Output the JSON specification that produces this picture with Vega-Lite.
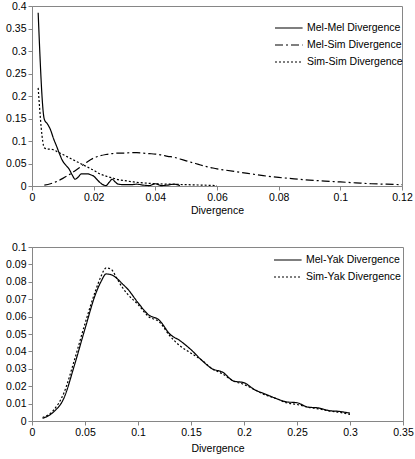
{
  "$schema": "https://vega.github.io/schema/vega-lite/v6.json",
  "padding": {"left": 5, "top": 0, "right": 12, "bottom": 0},
  "background": "white",
  "spacing": 24,
  "config": {
    "font": "Liberation Sans",
    "view": {"stroke": "#868686", "strokeWidth": 1},
    "axis": {
      "grid": false,
      "domainColor": "#868686",
      "tickColor": "#868686",
      "tickSize": 4,
      "labelPadding": 2,
      "labelFontSize": 10.5,
      "labelColor": "#000000",
      "titleFontSize": 10.5,
      "titleFontWeight": "normal",
      "titleColor": "#000000"
    },
    "axisY": {"minExtent": 26, "maxExtent": 26},
    "axisX": {"titlePadding": 3, "labelFlush": false},
    "legend": {
      "symbolType": "M-1,0H3.6",
      "symbolSize": 144,
      "symbolStrokeColor": "#000000",
      "symbolStrokeWidth": 1.2,
      "labelFontSize": 10.5,
      "labelColor": "#000000",
      "rowPadding": 4,
      "labelOffset": 19
    }
  },
  "datasets": {
    "top": [
      {"series": "Mel-Mel Divergence", "x": 0.002, "y": 0.385},
      {"series": "Mel-Mel Divergence", "x": 0.004, "y": 0.148},
      {"series": "Mel-Mel Divergence", "x": 0.005, "y": 0.138},
      {"series": "Mel-Mel Divergence", "x": 0.006, "y": 0.125},
      {"series": "Mel-Mel Divergence", "x": 0.007, "y": 0.105},
      {"series": "Mel-Mel Divergence", "x": 0.008, "y": 0.088},
      {"series": "Mel-Mel Divergence", "x": 0.009, "y": 0.07},
      {"series": "Mel-Mel Divergence", "x": 0.010, "y": 0.055},
      {"series": "Mel-Mel Divergence", "x": 0.011, "y": 0.046},
      {"series": "Mel-Mel Divergence", "x": 0.012, "y": 0.038},
      {"series": "Mel-Mel Divergence", "x": 0.013, "y": 0.025},
      {"series": "Mel-Mel Divergence", "x": 0.014, "y": 0.015},
      {"series": "Mel-Mel Divergence", "x": 0.015, "y": 0.02},
      {"series": "Mel-Mel Divergence", "x": 0.016, "y": 0.027},
      {"series": "Mel-Mel Divergence", "x": 0.018, "y": 0.027},
      {"series": "Mel-Mel Divergence", "x": 0.019, "y": 0.025},
      {"series": "Mel-Mel Divergence", "x": 0.020, "y": 0.022},
      {"series": "Mel-Mel Divergence", "x": 0.021, "y": 0.015},
      {"series": "Mel-Mel Divergence", "x": 0.022, "y": 0.008},
      {"series": "Mel-Mel Divergence", "x": 0.023, "y": 0.003},
      {"series": "Mel-Mel Divergence", "x": 0.024, "y": 0.001},
      {"series": "Mel-Mel Divergence", "x": 0.025, "y": 0.008},
      {"series": "Mel-Mel Divergence", "x": 0.026, "y": 0.015},
      {"series": "Mel-Mel Divergence", "x": 0.027, "y": 0.009},
      {"series": "Mel-Mel Divergence", "x": 0.028, "y": 0.004},
      {"series": "Mel-Mel Divergence", "x": 0.030, "y": 0.003},
      {"series": "Mel-Mel Divergence", "x": 0.032, "y": 0.003},
      {"series": "Mel-Mel Divergence", "x": 0.034, "y": 0.004},
      {"series": "Mel-Mel Divergence", "x": 0.036, "y": 0.002},
      {"series": "Mel-Mel Divergence", "x": 0.038, "y": 0.001},
      {"series": "Mel-Mel Divergence", "x": 0.040, "y": 0.005},
      {"series": "Mel-Mel Divergence", "x": 0.042, "y": 0.001},
      {"series": "Mel-Mel Divergence", "x": 0.044, "y": 0.002},
      {"series": "Mel-Mel Divergence", "x": 0.046, "y": 0.004},
      {"series": "Mel-Mel Divergence", "x": 0.048, "y": 0.001},
      {"series": "Mel-Sim Divergence", "x": 0.004, "y": 0.002},
      {"series": "Mel-Sim Divergence", "x": 0.006, "y": 0.005},
      {"series": "Mel-Sim Divergence", "x": 0.008, "y": 0.010},
      {"series": "Mel-Sim Divergence", "x": 0.010, "y": 0.017},
      {"series": "Mel-Sim Divergence", "x": 0.012, "y": 0.025},
      {"series": "Mel-Sim Divergence", "x": 0.014, "y": 0.034},
      {"series": "Mel-Sim Divergence", "x": 0.016, "y": 0.044},
      {"series": "Mel-Sim Divergence", "x": 0.018, "y": 0.054},
      {"series": "Mel-Sim Divergence", "x": 0.020, "y": 0.062},
      {"series": "Mel-Sim Divergence", "x": 0.022, "y": 0.067},
      {"series": "Mel-Sim Divergence", "x": 0.024, "y": 0.070},
      {"series": "Mel-Sim Divergence", "x": 0.026, "y": 0.072},
      {"series": "Mel-Sim Divergence", "x": 0.028, "y": 0.073},
      {"series": "Mel-Sim Divergence", "x": 0.030, "y": 0.073},
      {"series": "Mel-Sim Divergence", "x": 0.032, "y": 0.074},
      {"series": "Mel-Sim Divergence", "x": 0.034, "y": 0.074},
      {"series": "Mel-Sim Divergence", "x": 0.036, "y": 0.073},
      {"series": "Mel-Sim Divergence", "x": 0.038, "y": 0.072},
      {"series": "Mel-Sim Divergence", "x": 0.040, "y": 0.071},
      {"series": "Mel-Sim Divergence", "x": 0.042, "y": 0.069},
      {"series": "Mel-Sim Divergence", "x": 0.044, "y": 0.066},
      {"series": "Mel-Sim Divergence", "x": 0.046, "y": 0.064},
      {"series": "Mel-Sim Divergence", "x": 0.048, "y": 0.060},
      {"series": "Mel-Sim Divergence", "x": 0.050, "y": 0.056},
      {"series": "Mel-Sim Divergence", "x": 0.052, "y": 0.052},
      {"series": "Mel-Sim Divergence", "x": 0.054, "y": 0.048},
      {"series": "Mel-Sim Divergence", "x": 0.056, "y": 0.044},
      {"series": "Mel-Sim Divergence", "x": 0.058, "y": 0.041},
      {"series": "Mel-Sim Divergence", "x": 0.060, "y": 0.038},
      {"series": "Mel-Sim Divergence", "x": 0.062, "y": 0.036},
      {"series": "Mel-Sim Divergence", "x": 0.065, "y": 0.033},
      {"series": "Mel-Sim Divergence", "x": 0.070, "y": 0.028},
      {"series": "Mel-Sim Divergence", "x": 0.075, "y": 0.023},
      {"series": "Mel-Sim Divergence", "x": 0.080, "y": 0.019},
      {"series": "Mel-Sim Divergence", "x": 0.085, "y": 0.016},
      {"series": "Mel-Sim Divergence", "x": 0.090, "y": 0.013},
      {"series": "Mel-Sim Divergence", "x": 0.095, "y": 0.011},
      {"series": "Mel-Sim Divergence", "x": 0.100, "y": 0.009},
      {"series": "Mel-Sim Divergence", "x": 0.105, "y": 0.007},
      {"series": "Mel-Sim Divergence", "x": 0.110, "y": 0.005},
      {"series": "Mel-Sim Divergence", "x": 0.115, "y": 0.004},
      {"series": "Mel-Sim Divergence", "x": 0.120, "y": 0.003},
      {"series": "Sim-Sim Divergence", "x": 0.002, "y": 0.218},
      {"series": "Sim-Sim Divergence", "x": 0.004, "y": 0.085},
      {"series": "Sim-Sim Divergence", "x": 0.005, "y": 0.082},
      {"series": "Sim-Sim Divergence", "x": 0.006, "y": 0.082},
      {"series": "Sim-Sim Divergence", "x": 0.008, "y": 0.077},
      {"series": "Sim-Sim Divergence", "x": 0.010, "y": 0.070},
      {"series": "Sim-Sim Divergence", "x": 0.012, "y": 0.063},
      {"series": "Sim-Sim Divergence", "x": 0.014, "y": 0.056},
      {"series": "Sim-Sim Divergence", "x": 0.016, "y": 0.049},
      {"series": "Sim-Sim Divergence", "x": 0.018, "y": 0.042},
      {"series": "Sim-Sim Divergence", "x": 0.020, "y": 0.035},
      {"series": "Sim-Sim Divergence", "x": 0.022, "y": 0.027},
      {"series": "Sim-Sim Divergence", "x": 0.024, "y": 0.022},
      {"series": "Sim-Sim Divergence", "x": 0.026, "y": 0.018},
      {"series": "Sim-Sim Divergence", "x": 0.028, "y": 0.014},
      {"series": "Sim-Sim Divergence", "x": 0.030, "y": 0.012},
      {"series": "Sim-Sim Divergence", "x": 0.033, "y": 0.009},
      {"series": "Sim-Sim Divergence", "x": 0.036, "y": 0.007},
      {"series": "Sim-Sim Divergence", "x": 0.040, "y": 0.005},
      {"series": "Sim-Sim Divergence", "x": 0.045, "y": 0.004},
      {"series": "Sim-Sim Divergence", "x": 0.050, "y": 0.003},
      {"series": "Sim-Sim Divergence", "x": 0.055, "y": 0.002},
      {"series": "Sim-Sim Divergence", "x": 0.060, "y": 0.001}
    ],
    "bottom": [
      {"series": "Mel-Yak Divergence", "x": 0.01, "y": 0.0015},
      {"series": "Mel-Yak Divergence", "x": 0.02, "y": 0.005},
      {"series": "Mel-Yak Divergence", "x": 0.03, "y": 0.013},
      {"series": "Mel-Yak Divergence", "x": 0.04, "y": 0.032},
      {"series": "Mel-Yak Divergence", "x": 0.05, "y": 0.053},
      {"series": "Mel-Yak Divergence", "x": 0.06, "y": 0.073},
      {"series": "Mel-Yak Divergence", "x": 0.065, "y": 0.080},
      {"series": "Mel-Yak Divergence", "x": 0.07, "y": 0.0845},
      {"series": "Mel-Yak Divergence", "x": 0.075, "y": 0.084},
      {"series": "Mel-Yak Divergence", "x": 0.08, "y": 0.082},
      {"series": "Mel-Yak Divergence", "x": 0.085, "y": 0.079},
      {"series": "Mel-Yak Divergence", "x": 0.09, "y": 0.076},
      {"series": "Mel-Yak Divergence", "x": 0.10, "y": 0.068},
      {"series": "Mel-Yak Divergence", "x": 0.11, "y": 0.061},
      {"series": "Mel-Yak Divergence", "x": 0.12, "y": 0.058},
      {"series": "Mel-Yak Divergence", "x": 0.13, "y": 0.050},
      {"series": "Mel-Yak Divergence", "x": 0.14, "y": 0.046},
      {"series": "Mel-Yak Divergence", "x": 0.15, "y": 0.041},
      {"series": "Mel-Yak Divergence", "x": 0.16, "y": 0.035},
      {"series": "Mel-Yak Divergence", "x": 0.17, "y": 0.030},
      {"series": "Mel-Yak Divergence", "x": 0.18, "y": 0.028},
      {"series": "Mel-Yak Divergence", "x": 0.19, "y": 0.023},
      {"series": "Mel-Yak Divergence", "x": 0.20, "y": 0.022},
      {"series": "Mel-Yak Divergence", "x": 0.21, "y": 0.018},
      {"series": "Mel-Yak Divergence", "x": 0.22, "y": 0.0155},
      {"series": "Mel-Yak Divergence", "x": 0.23, "y": 0.013},
      {"series": "Mel-Yak Divergence", "x": 0.24, "y": 0.011},
      {"series": "Mel-Yak Divergence", "x": 0.25, "y": 0.0105},
      {"series": "Mel-Yak Divergence", "x": 0.26, "y": 0.008},
      {"series": "Mel-Yak Divergence", "x": 0.27, "y": 0.0075},
      {"series": "Mel-Yak Divergence", "x": 0.28, "y": 0.006},
      {"series": "Mel-Yak Divergence", "x": 0.29, "y": 0.0055},
      {"series": "Mel-Yak Divergence", "x": 0.30, "y": 0.0045},
      {"series": "Sim-Yak Divergence", "x": 0.01, "y": 0.002},
      {"series": "Sim-Yak Divergence", "x": 0.02, "y": 0.006},
      {"series": "Sim-Yak Divergence", "x": 0.03, "y": 0.016},
      {"series": "Sim-Yak Divergence", "x": 0.04, "y": 0.035},
      {"series": "Sim-Yak Divergence", "x": 0.05, "y": 0.056},
      {"series": "Sim-Yak Divergence", "x": 0.06, "y": 0.075},
      {"series": "Sim-Yak Divergence", "x": 0.065, "y": 0.083},
      {"series": "Sim-Yak Divergence", "x": 0.07, "y": 0.088},
      {"series": "Sim-Yak Divergence", "x": 0.075, "y": 0.087},
      {"series": "Sim-Yak Divergence", "x": 0.08, "y": 0.082},
      {"series": "Sim-Yak Divergence", "x": 0.085, "y": 0.077},
      {"series": "Sim-Yak Divergence", "x": 0.09, "y": 0.073},
      {"series": "Sim-Yak Divergence", "x": 0.10, "y": 0.067},
      {"series": "Sim-Yak Divergence", "x": 0.11, "y": 0.060},
      {"series": "Sim-Yak Divergence", "x": 0.12, "y": 0.057},
      {"series": "Sim-Yak Divergence", "x": 0.13, "y": 0.049},
      {"series": "Sim-Yak Divergence", "x": 0.14, "y": 0.043},
      {"series": "Sim-Yak Divergence", "x": 0.15, "y": 0.039},
      {"series": "Sim-Yak Divergence", "x": 0.16, "y": 0.035},
      {"series": "Sim-Yak Divergence", "x": 0.17, "y": 0.030},
      {"series": "Sim-Yak Divergence", "x": 0.18, "y": 0.027},
      {"series": "Sim-Yak Divergence", "x": 0.19, "y": 0.023},
      {"series": "Sim-Yak Divergence", "x": 0.20, "y": 0.021},
      {"series": "Sim-Yak Divergence", "x": 0.21, "y": 0.018},
      {"series": "Sim-Yak Divergence", "x": 0.22, "y": 0.015},
      {"series": "Sim-Yak Divergence", "x": 0.23, "y": 0.013},
      {"series": "Sim-Yak Divergence", "x": 0.24, "y": 0.0105},
      {"series": "Sim-Yak Divergence", "x": 0.25, "y": 0.0095},
      {"series": "Sim-Yak Divergence", "x": 0.26, "y": 0.008},
      {"series": "Sim-Yak Divergence", "x": 0.27, "y": 0.007},
      {"series": "Sim-Yak Divergence", "x": 0.28, "y": 0.0058},
      {"series": "Sim-Yak Divergence", "x": 0.29, "y": 0.005},
      {"series": "Sim-Yak Divergence", "x": 0.30, "y": 0.0038}
    ]
  },
  "resolve": {"scale": {"strokeDash": "independent", "x": "independent", "y": "independent"}, "legend": {"strokeDash": "independent"}},
  "vconcat": [
    {
      "width": 370,
      "height": 180,
      "data": {"name": "top"},
      "mark": {"type": "line", "interpolate": "monotone", "color": "#000000", "strokeWidth": 1.2},
      "encoding": {
        "x": {"field": "x", "type": "quantitative", "scale": {"domain": [0, 0.12], "nice": false},
              "axis": {"values": [0, 0.02, 0.04, 0.06, 0.08, 0.1, 0.12], "format": ".2~f", "title": "Divergence"}},
        "y": {"field": "y", "type": "quantitative", "scale": {"domain": [0, 0.4], "nice": false},
              "axis": {"values": [0, 0.05, 0.1, 0.15, 0.2, 0.25, 0.3, 0.35, 0.4], "format": ".2~f", "title": null}},
        "strokeDash": {"field": "series", "type": "nominal",
          "scale": {"domain": ["Mel-Mel Divergence", "Mel-Sim Divergence", "Sim-Sim Divergence"], "range": [[1, 0], [8, 3, 2, 3], [2, 2]]},
          "legend": {"orient": "none", "legendX": 242, "legendY": 15, "title": null}}
      }
    },
    {
      "width": 371,
      "height": 174,
      "data": {"name": "bottom"},
      "mark": {"type": "line", "interpolate": "monotone", "color": "#000000", "strokeWidth": 1.2},
      "encoding": {
        "x": {"field": "x", "type": "quantitative", "scale": {"domain": [0, 0.35], "nice": false},
              "axis": {"values": [0, 0.05, 0.1, 0.15, 0.2, 0.25, 0.3, 0.35], "format": ".2~f", "title": "Divergence", "titlePadding": 6}},
        "y": {"field": "y", "type": "quantitative", "scale": {"domain": [0, 0.1], "nice": false},
              "axis": {"values": [0, 0.01, 0.02, 0.03, 0.04, 0.05, 0.06, 0.07, 0.08, 0.09, 0.1], "format": ".2~f", "title": null}},
        "strokeDash": {"field": "series", "type": "nominal",
          "scale": {"domain": ["Mel-Yak Divergence", "Sim-Yak Divergence"], "range": [[1, 0], [2, 2]]},
          "legend": {"orient": "none", "legendX": 241, "legendY": 6, "title": null}}
      }
    }
  ]
}
